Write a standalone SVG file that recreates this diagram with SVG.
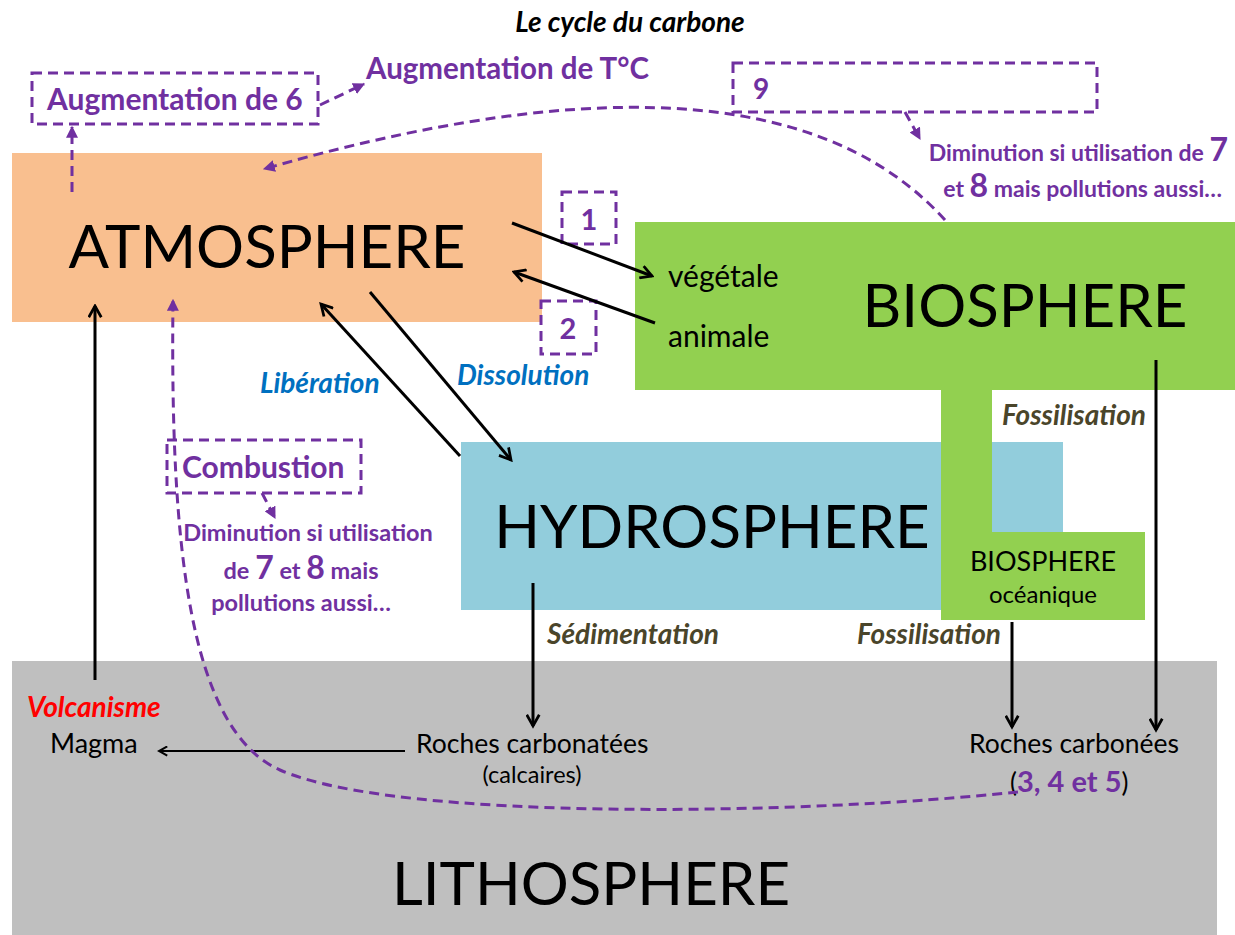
<svg xmlns="http://www.w3.org/2000/svg" width="1235" height="935" viewBox="0 0 1235 935">
<defs>
<style>
text{font-family:Lato,"Open Sans","Liberation Sans",sans-serif;}
.big{font-size:60px;fill:#000;}
.lbl{font-size:26.5px;fill:#000;}
.pur{font-weight:bold;fill:#7030A0;}
.blue{font-weight:bold;font-style:italic;fill:#0070C0;font-size:28px;}
.olive{font-weight:bold;font-style:italic;fill:#4A452A;font-size:28px;}
.dbox{fill:none;stroke:#7030A0;stroke-width:3;stroke-dasharray:10 6;}
.dline{fill:none;stroke:#7030A0;stroke-width:3;stroke-dasharray:10 6;}
.arr{fill:none;stroke:#000;stroke-width:3;}
</style>
<marker id="ah" viewBox="0 0 12 12" refX="10" refY="6" markerWidth="5" markerHeight="5" orient="auto" markerUnits="strokeWidth">
<path d="M1,1 L10,6 L1,11" fill="none" stroke="#000" stroke-width="2.2"/>
</marker>
<marker id="ph" viewBox="0 0 10 10" refX="9" refY="5" markerWidth="4" markerHeight="4" orient="auto" markerUnits="strokeWidth">
<path d="M0,0 L10,5 L0,10 z" fill="#7030A0"/>
</marker>
</defs>
<rect width="1235" height="935" fill="#fff"/>

<text x="630" y="32" text-anchor="middle" style="font-size:28px;font-weight:bold;font-style:italic;">Le cycle du carbone</text>

<g id="lithosphere">
<rect x="12" y="661" width="1205" height="274" fill="#BFBFBF"/>
<text x="591" y="905" text-anchor="middle" class="big">LITHOSPHERE</text>
</g>

<g id="atmosphere">
<rect x="12" y="153" width="530" height="169" fill="#F9BF8F"/>
<text x="267" y="268" text-anchor="middle" class="big">ATMOSPHERE</text>
</g>

<g id="hydrosphere">
<rect x="461" y="442" width="602" height="168" fill="#92CDDC"/>
<text x="712" y="548" text-anchor="middle" class="big">HYDROSPHERE</text>
</g>

<g id="biosphere">
<path d="M635,222 H1235 V390 H992 V532 H1145 V620 H941 V390 H635 Z" fill="#92D050"/>
<text x="1025" y="327" text-anchor="middle" class="big">BIOSPHERE</text>
<text x="668" y="287" style="font-size:30px;">végétale</text>
<text x="668" y="347" style="font-size:30px;">animale</text>
<text x="1043" y="571" text-anchor="middle" style="font-size:27px;">BIOSPHERE</text>
<text x="1043" y="603" text-anchor="middle" style="font-size:24px;">océanique</text>
</g>

<g id="box-aug6">
<rect x="32" y="73" width="286" height="51" class="dbox"/>
<text x="47" y="110" class="pur" style="font-size:30px;">Augmentation de 6</text>
</g>
<text id="aug-tc" x="366" y="79" class="pur" style="font-size:29.5px;">Augmentation de T°C</text>

<g id="box-9">
<rect x="733" y="63" width="364" height="49" class="dbox"/>
<text x="753" y="99" class="pur" style="font-size:28px;">9</text>
</g>
<g id="dim-right">
<text x="1228" y="161" text-anchor="end" class="pur" style="font-size:23px;">Diminution si utilisation de <tspan style="font-size:32px;">7</tspan></text>
<text x="1222" y="197" text-anchor="end" class="pur" style="font-size:23px;">et <tspan style="font-size:32px;">8</tspan> mais pollutions aussi…</text>
</g>

<g id="box-1">
<rect x="562" y="192" width="54" height="52" class="dbox"/>
<text x="589" y="230" text-anchor="middle" class="pur" style="font-size:29px;">1</text>
</g>
<g id="box-2">
<rect x="541" y="301" width="55" height="53" class="dbox"/>
<text x="568" y="339" text-anchor="middle" class="pur" style="font-size:29px;">2</text>
</g>

<g id="box-combustion">
<rect x="167" y="440" width="194" height="53" class="dbox"/>
<text x="182" y="478" class="pur" style="font-size:30px;">Combustion</text>
</g>
<g id="dim-left">
<text x="308" y="541" text-anchor="middle" class="pur" style="font-size:23.5px;">Diminution si utilisation</text>
<text x="301" y="579" text-anchor="middle" class="pur" style="font-size:23.5px;">de <tspan style="font-size:32px;">7</tspan> et <tspan style="font-size:32px;">8</tspan> mais</text>
<text x="301" y="611" text-anchor="middle" class="pur" style="font-size:23.5px;">pollutions aussi…</text>
</g>

<g id="labels">
<text x="260" y="393" class="blue">Libération</text>
<text x="457" y="385" class="blue">Dissolution</text>
<text x="547" y="644" class="olive">Sédimentation</text>
<text x="857" y="644" class="olive">Fossilisation</text>
<text x="1002" y="425" class="olive">Fossilisation</text>
<text x="27" y="717" style="font-size:28px;font-weight:bold;font-style:italic;fill:#FF0000;">Volcanisme</text>
<text x="50" y="753" style="font-size:27px;">Magma</text>
<text x="416" y="753" class="lbl">Roches carbonatées</text>
<text x="532" y="783" text-anchor="middle" style="font-size:23.5px;">(calcaires)</text>
<text x="969" y="753" class="lbl">Roches carbonées</text>
<text x="1010" y="792" style="font-size:26px;">(<tspan class="pur" style="font-size:29px;">3, 4 et 5</tspan>)</text>
</g>

<g id="connectors">
<line x1="512" y1="223" x2="652" y2="276" class="arr" marker-end="url(#ah)"/>
<line x1="655" y1="323" x2="514" y2="272" class="arr" marker-end="url(#ah)"/>
<line x1="460" y1="456" x2="321" y2="304" class="arr" marker-end="url(#ah)"/>
<line x1="370" y1="292" x2="511" y2="460" class="arr" marker-end="url(#ah)"/>
<line x1="95" y1="680" x2="95" y2="306" class="arr" marker-end="url(#ah)"/>
<line x1="405" y1="751" x2="159" y2="751" class="arr" marker-end="url(#ah)" style="stroke-width:2.2"/>
<line x1="533" y1="583" x2="533" y2="726" class="arr" marker-end="url(#ah)"/>
<line x1="1012" y1="622" x2="1012" y2="727" class="arr" marker-end="url(#ah)"/>
<line x1="1156" y1="360" x2="1156" y2="730" class="arr" marker-end="url(#ah)"/>

<line x1="72" y1="192" x2="72" y2="127" class="dline" marker-end="url(#ph)"/>
<line x1="320" y1="105" x2="364" y2="84" class="dline" marker-end="url(#ph)"/>
<line x1="905" y1="112" x2="920" y2="139" class="dline" marker-end="url(#ph)"/>
<line x1="262" y1="493" x2="275" y2="518" class="dline" marker-end="url(#ph)"/>
<path d="M945,220 C850,115 660,55 264,169" class="dline" marker-end="url(#ph)"/>
<path d="M1018,792 C800,815 400,822 280,770 C190,730 170,550 173,300" class="dline" marker-end="url(#ph)"/>
</g>
</svg>
